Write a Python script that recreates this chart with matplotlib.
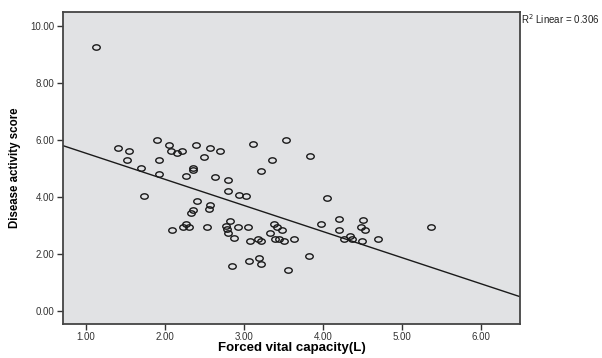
import numpy as np
import matplotlib.pyplot as plt
from matplotlib.path import Path
from matplotlib.transforms import Affine2D

# Forced vital capacity (L) vs disease activity score
fvc = [1.13, 1.40, 1.54, 1.52, 1.70, 1.90, 1.93, 2.05, 2.07, 2.15,
       2.21, 2.39, 2.49, 2.57, 2.70, 2.36, 2.35, 3.11, 3.22, 3.35,
       3.53, 3.84, 1.93, 2.26, 2.63, 2.80, 1.74, 2.80, 2.93, 3.03,
       4.05, 2.40, 2.57, 2.56, 2.36, 2.33, 2.26, 2.23, 2.30, 2.09,
       2.53, 2.82, 2.77, 2.79, 2.80, 2.87, 2.92, 3.05, 3.08, 3.17,
       3.21, 3.38, 3.42, 3.48, 3.33, 3.39, 3.44, 3.50, 3.63, 3.97,
       4.20, 4.20, 3.82, 3.06, 3.19, 3.22, 2.85, 3.56, 4.51, 4.48,
       4.53, 4.27, 4.34, 4.36, 4.49, 4.69, 5.36]
das = [9.26, 5.70, 5.61, 5.28, 4.99, 6.00, 5.30, 5.80, 5.61, 5.53,
       5.61, 5.80, 5.40, 5.70, 5.61, 5.02, 4.92, 5.86, 4.91, 5.28,
       5.99, 5.43, 4.80, 4.72, 4.70, 4.60, 4.03, 4.19, 4.06, 4.02,
       3.96, 3.83, 3.72, 3.57, 3.54, 3.42, 3.03, 2.93, 2.93, 2.82,
       2.93, 3.13, 2.97, 2.86, 2.74, 2.54, 2.93, 2.93, 2.45, 2.53,
       2.45, 3.05, 2.92, 2.82, 2.74, 2.53, 2.53, 2.45, 2.53, 3.03,
       3.21, 2.82, 1.93, 1.75, 1.84, 1.65, 1.55, 1.44, 3.18, 2.93,
       2.82, 2.53, 2.61, 2.52, 2.44, 2.53, 2.93]

# fit line as drawn in the picture
fit_intercept = 6.44
fit_slope = -0.917
r2 = 0.306

xticks = [1, 2, 3, 4, 5, 6]
yticks = [0, 2, 4, 6, 8, 10]

plt.rcParams['font.family'] = ['Liberation Sans', 'DejaVu Sans']

fig = plt.figure(figsize=(6.02, 3.58), dpi=100)
ax = fig.add_axes([0.1047, 0.095, 0.7591, 0.8715])
ax.set_facecolor('#e1e2e4')

# slightly flattened open circles like in the original export
ell = Path(Affine2D().scale(1, 0.72).transform(Path.unit_circle().vertices),
           Path.unit_circle().codes)
ax.plot(fvc, das, linestyle='none', marker=ell, markersize=5.4,
        markerfacecolor='none', markeredgecolor='#1a1a1a', markeredgewidth=1.0)

xl = np.array([0.71, 6.49])
ax.plot(xl, fit_intercept + fit_slope * xl, color='#1a1a1a', linewidth=1.0)

ax.set_xlim(0.71, 6.49)
ax.set_ylim(-0.47, 10.48)
ax.set_xticks(xticks)
ax.set_yticks(yticks)
ax.set_xticklabels([f'{t:.2f}' for t in xticks])
ax.set_yticklabels([f'{t:.2f}' for t in yticks])
ax.tick_params(direction='out', length=4, width=1.0, labelsize=7, pad=2,
               colors='#333333')

for s in ax.spines.values():
    s.set_color('#444444')
    s.set_linewidth(1.3)

ax.set_xlabel('Forced vital capacity(L)', fontsize=9.5, fontweight='bold', labelpad=0)
ax.set_ylabel('Disease activity score', fontsize=8.3, fontweight='bold', labelpad=7)

fig.text(521 / 602, 1 - 19 / 358, f'R$^2$ Linear = {r2:.3f}', fontsize=7,
         va='center', ha='left', color='#222222')

fig.savefig('out.png', dpi=100)
